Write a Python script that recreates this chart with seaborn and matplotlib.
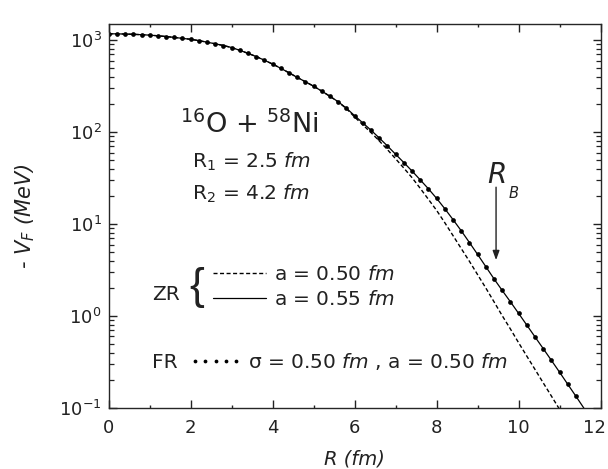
import matplotlib
matplotlib.use("Agg")
import matplotlib.pyplot as plt
import matplotlib.transforms as mtransforms
import seaborn as sns
import pandas as pd
from matplotlib.ticker import MultipleLocator, LogLocator, NullFormatter

# ---------------- data ----------------
R_fr = [0.0, 0.2, 0.4, 0.6, 0.8, 1.0, 1.2, 1.4, 1.6, 1.8, 2.0, 2.2, 2.4, 2.6, 2.8,
        3.0, 3.2, 3.4, 3.6, 3.8, 4.0, 4.2, 4.4, 4.6, 4.8, 5.0, 5.2, 5.4, 5.6, 5.8,
        6.0, 6.2, 6.4, 6.6, 6.8, 7.0, 7.2, 7.4, 7.6, 7.8, 8.0, 8.2, 8.4, 8.6, 8.8,
        9.0, 9.2, 9.4, 9.6, 9.8, 10.0, 10.2, 10.4, 10.6, 10.8, 11.0, 11.2, 11.4]
V_fr = [1175, 1172, 1167, 1159, 1148, 1135, 1117, 1096, 1072, 1047, 1023, 989, 951, 914, 875,
        832, 776, 719, 664, 605, 550, 494, 442, 394, 353, 316, 279, 245, 214, 182,
        151, 126, 105, 86.5, 70.8, 57.5, 46.7, 37.8, 30.3, 24.2, 19.05, 14.7, 11.2, 8.47, 6.31,
        4.68, 3.45, 2.54, 1.90, 1.43, 1.07, 0.798, 0.594, 0.443, 0.330, 0.245, 0.181, 0.134]

R_zr55 = [0.0, 0.2, 0.4, 0.6, 0.8, 1.0, 1.2, 1.4, 1.6, 1.8, 2.0, 2.2, 2.4, 2.6, 2.8,
          3.0, 3.2, 3.4, 3.6, 3.8, 4.0, 4.2, 4.4, 4.6, 4.8, 5.0, 5.2, 5.4, 5.6, 5.8,
          6.0, 6.2, 6.4, 6.6, 6.8, 7.0, 7.2, 7.4, 7.6, 7.8, 8.0, 8.2, 8.4, 8.6, 8.8,
          9.0, 9.2, 9.4, 9.6, 9.8, 10.0, 10.2, 10.4, 10.6, 10.8, 11.0, 11.2, 11.4, 11.6]
V_zr55 = [1175, 1172, 1167, 1159, 1148, 1135, 1117, 1096, 1072, 1047, 1023, 989, 951, 914, 875,
          832, 776, 719, 664, 605, 550, 494, 442, 394, 353, 316, 279, 245, 214, 182,
          151, 126, 105, 86.5, 70.8, 57.5, 46.7, 37.8, 30.3, 24.2, 19.05, 14.7, 11.2, 8.47, 6.31,
          4.68, 3.45, 2.54, 1.90, 1.43, 1.07, 0.798, 0.594, 0.443, 0.330, 0.245, 0.181, 0.134, 0.0986]

R_zr50 = [0.0, 0.2, 0.4, 0.6, 0.8, 1.0, 1.2, 1.4, 1.6, 1.8, 2.0, 2.2, 2.4, 2.6, 2.8,
          3.0, 3.2, 3.4, 3.6, 3.8, 4.0, 4.2, 4.4, 4.6, 4.8, 5.0, 5.2, 5.4, 5.6, 5.8,
          6.0, 6.2, 6.4, 6.6, 6.8, 7.0, 7.2, 7.4, 7.6, 7.8, 8.0, 8.2, 8.4, 8.6, 8.8,
          9.0, 9.2, 9.4, 9.6, 9.8, 10.0, 10.2, 10.4, 10.6, 10.8, 11.0]
V_zr50 = [1175, 1172, 1167, 1159, 1148, 1135, 1117, 1096, 1072, 1047, 1023, 989, 951, 914, 875,
          832, 776, 719, 664, 605, 550, 494, 442, 394, 353, 316, 279, 245, 213, 180,
          146, 120, 98.9, 80.4, 64.6, 51.3, 40.7, 32.0, 24.5, 18.6, 14.1, 10.35, 7.50, 5.43, 3.94,
          2.82, 2.02, 1.43, 1.01, 0.724, 0.513, 0.367, 0.263, 0.188, 0.135, 0.0966]

x_ticks = [0, 2, 4, 6, 8, 10, 12]
R_barrier = 9.45
arrow_from, arrow_to = 25.2, 4.06

label_zr50 = r"a = 0.50 $\mathit{fm}$"
label_zr55 = r"a = 0.55 $\mathit{fm}$"
label_fr = r"σ = 0.50 $\mathit{fm}$ , a = 0.50 $\mathit{fm}$"

# ---------------- style ----------------
sns.set_style("ticks")
plt.rcParams["font.family"] = ["DejaVu Sans"]
plt.rcParams["mathtext.fontset"] = "dejavusans"
plt.rcParams["axes.linewidth"] = 1.0

fig = plt.figure(figsize=(6.08, 4.69), dpi=100)
ax = fig.add_axes([0.1788, 0.130, 0.809, 0.8188])

df_fr = pd.DataFrame({"R": R_fr, "V": V_fr})
df_55 = pd.DataFrame({"R": R_zr55, "V": V_zr55})
df_50 = pd.DataFrame({"R": R_zr50, "V": V_zr50})

sns.lineplot(data=df_50, x="R", y="V", ax=ax, color="black", lw=1.0,
             linestyle=(0, (2.9, 1.8)), label=label_zr50, legend=False)
sns.lineplot(data=df_55, x="R", y="V", ax=ax, color="black", lw=0.9,
             label=label_zr55, legend=False)
sns.lineplot(data=df_fr, x="R", y="V", ax=ax, color="black", linestyle="none",
             marker="o", markersize=3.4, markeredgewidth=0, label=label_fr, legend=False)

ax.set_yscale("log")
ax.set_xlim(0, 12)
ax.set_ylim(0.1, 1500)
ax.xaxis.set_minor_locator(MultipleLocator(1))
ax.set_xticks(x_ticks)
ax.yaxis.set_major_locator(LogLocator(base=10, numticks=10))
ax.yaxis.set_minor_locator(LogLocator(base=10, subs=range(2, 10), numticks=20))
ax.yaxis.set_minor_formatter(NullFormatter())

ax.tick_params(which="both", direction="in", top=True, right=True, color="#222222")
ax.tick_params(axis="x", which="major", length=5.5, width=1.0, labelsize=13, pad=8)
ax.tick_params(axis="x", which="minor", length=2.5, width=1.0)
ax.tick_params(axis="y", which="major", length=6.0, width=1.0, labelsize=13, pad=5)
ax.tick_params(axis="y", which="minor", length=3.5, width=0.9)
for lab in ax.get_xticklabels() + ax.get_yticklabels():
    lab.set_color("#222222")
# nudge the last x tick label so it stays inside the figure
last = ax.get_xticklabels()[-1]
last.set_transform(last.get_transform() +
                   mtransforms.ScaledTranslation(-6 / 100, 0, fig.dpi_scale_trans))

ax.set_xlabel("R (fm)", fontsize=14, fontstyle="italic", color="#222222", va="top")
ax.xaxis.set_label_coords(0.5, -0.108)
ax.set_ylabel("- $V_F$ (MeV)", fontsize=15, fontstyle="italic", color="#222222")
ax.yaxis.set_label_coords(-0.145, 0.5)

# ---------------- annotations ----------------
ax.text(0.145, 0.716, r"$^{16}$O + $^{58}$Ni", transform=ax.transAxes,
        fontsize=19.5, va="baseline", ha="left", color="#222222")
ax.text(0.169, 0.625, r"R$_1$ = 2.5 $\mathit{fm}$", transform=ax.transAxes,
        fontsize=14.5, va="baseline", ha="left", color="#222222")
ax.text(0.169, 0.542, r"R$_2$ = 4.2 $\mathit{fm}$", transform=ax.transAxes,
        fontsize=14.5, va="baseline", ha="left", color="#222222")

ax.text(0.088, 0.281, "ZR", transform=ax.transAxes, fontsize=14.5,
        va="baseline", ha="left", color="#222222")
ax.text(0.180, 0.313, "{", transform=ax.transAxes, fontsize=32,
        family=["Liberation Sans", "DejaVu Sans"], va="center", ha="center", color="#222222")
ax.text(0.088, 0.104, "FR", transform=ax.transAxes, fontsize=14.5,
        va="baseline", ha="left", color="#222222")

handles = ax.get_lines()
leg1 = ax.legend(handles=[handles[0], handles[1]], labels=[label_zr50, label_zr55],
                 loc="center left", bbox_to_anchor=(0.212, 0.314), frameon=False,
                 fontsize=14.5, handlelength=2.62, handletextpad=0.4,
                 labelspacing=0.3, borderpad=0, borderaxespad=0)
ax.add_artist(leg1)
leg2 = ax.legend(handles=[handles[2]], labels=[label_fr], loc="center left",
                 bbox_to_anchor=(0.164, 0.122), frameon=False, fontsize=14.5,
                 handlelength=2.6, handletextpad=0.3, numpoints=5,
                 borderpad=0, borderaxespad=0, markerscale=0.8)
for lg in (leg1, leg2):
    for t in lg.get_texts():
        t.set_color("#222222")

ax.annotate("", xy=(R_barrier, arrow_to), xytext=(R_barrier, arrow_from),
            arrowprops=dict(arrowstyle="-|>,head_length=0.55,head_width=0.2",
                            color="#222222", lw=1.0, shrinkA=0, shrinkB=0,
                            mutation_scale=10))
ax.text(0.769, 0.586, "R", transform=ax.transAxes, fontsize=20, fontstyle="italic",
        va="baseline", ha="left", color="#222222")
ax.text(0.812, 0.548, "B", transform=ax.transAxes, fontsize=10.5, fontstyle="italic",
        va="baseline", ha="left", color="#222222")

fig.savefig("out.png", dpi=100)
